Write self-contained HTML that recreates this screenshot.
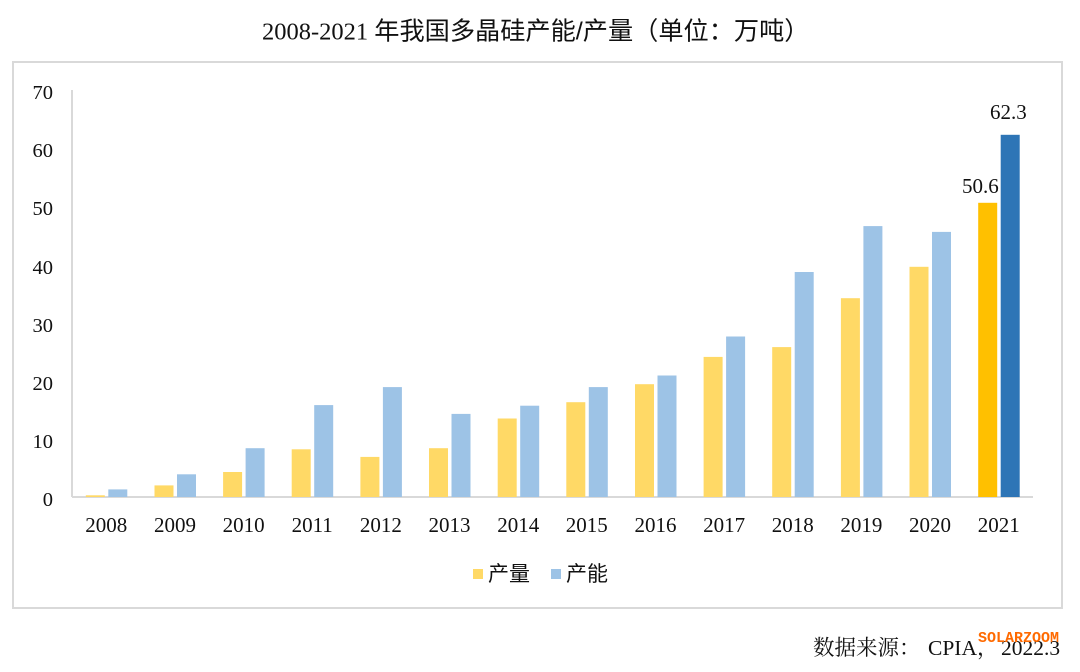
<!DOCTYPE html>
<html>
<head>
<meta charset="utf-8">
<style>
html,body{margin:0;padding:0;background:#fff;}
body{width:1080px;height:672px;overflow:hidden;}
svg{display:block;}
</style>
</head>
<body>
<svg width="1080" height="672" viewBox="0 0 1080 672" xmlns="http://www.w3.org/2000/svg">
  <rect x="0" y="0" width="1080" height="672" fill="#ffffff"/>
  <!-- Title -->
  <text x="262" y="39.5" font-family="Liberation Serif, serif" font-size="24.5" fill="#111">2008-2021 <tspan font-family="Liberation Sans, 'Noto Sans CJK SC', sans-serif" font-size="25.2">年我国多晶硅产能/产量（单位：万吨）</tspan></text>
  <!-- Frame -->
  <rect x="13" y="62" width="1049" height="546" fill="none" stroke="#d9d9d9" stroke-width="2"/>
  <!-- Axes -->
  <line x1="72" y1="90" x2="72" y2="497" stroke="#d9d9d9" stroke-width="2"/>
  <line x1="72" y1="497" x2="1033" y2="497" stroke="#d9d9d9" stroke-width="2"/>
  <!-- Y labels -->
  <g font-family="Liberation Serif, serif" font-size="20.5" fill="#111" text-anchor="end">
    <text x="53" y="99">70</text>
    <text x="53" y="157">60</text>
    <text x="53" y="215">50</text>
    <text x="53" y="274">40</text>
    <text x="53" y="332">30</text>
    <text x="53" y="390">20</text>
    <text x="53" y="448">10</text>
    <text x="53" y="506">0</text>
  </g>
  <!-- X labels -->
  <g font-family="Liberation Serif, serif" font-size="21" fill="#111" text-anchor="middle">
    <text x="106.3" y="532">2008</text>
    <text x="175.0" y="532">2009</text>
    <text x="243.6" y="532">2010</text>
    <text x="312.2" y="532">2011</text>
    <text x="380.9" y="532">2012</text>
    <text x="449.5" y="532">2013</text>
    <text x="518.2" y="532">2014</text>
    <text x="586.8" y="532">2015</text>
    <text x="655.5" y="532">2016</text>
    <text x="724.1" y="532">2017</text>
    <text x="792.7" y="532">2018</text>
    <text x="861.4" y="532">2019</text>
    <text x="930.0" y="532">2020</text>
    <text x="998.7" y="532">2021</text>
  </g>
  <!-- Bars -->
  <g>
    <rect x="85.8" y="495.3" width="19" height="1.7" fill="#ffd966"/>
    <rect x="108.3" y="489.4" width="19" height="7.6" fill="#9dc3e6"/>

    <rect x="154.5" y="485.4" width="19" height="11.6" fill="#ffd966"/>
    <rect x="177.0" y="474.3" width="19" height="22.7" fill="#9dc3e6"/>

    <rect x="223.1" y="472.0" width="19" height="25.0" fill="#ffd966"/>
    <rect x="245.6" y="448.2" width="19" height="48.8" fill="#9dc3e6"/>

    <rect x="291.7" y="449.3" width="19" height="47.7" fill="#ffd966"/>
    <rect x="314.2" y="405.1" width="19" height="91.9" fill="#9dc3e6"/>

    <rect x="360.4" y="456.9" width="19" height="40.1" fill="#ffd966"/>
    <rect x="382.9" y="387.1" width="19" height="109.9" fill="#9dc3e6"/>

    <rect x="429.0" y="448.2" width="19" height="48.8" fill="#ffd966"/>
    <rect x="451.5" y="413.9" width="19" height="83.1" fill="#9dc3e6"/>

    <rect x="497.7" y="418.5" width="19" height="78.5" fill="#ffd966"/>
    <rect x="520.2" y="405.7" width="19" height="91.3" fill="#9dc3e6"/>

    <rect x="566.3" y="402.2" width="19" height="94.8" fill="#ffd966"/>
    <rect x="588.8" y="387.1" width="19" height="109.9" fill="#9dc3e6"/>

    <rect x="635.0" y="384.2" width="19" height="112.8" fill="#ffd966"/>
    <rect x="657.5" y="375.5" width="19" height="121.5" fill="#9dc3e6"/>

    <rect x="703.6" y="356.9" width="19" height="140.1" fill="#ffd966"/>
    <rect x="726.1" y="336.5" width="19" height="160.5" fill="#9dc3e6"/>

    <rect x="772.2" y="347.1" width="19" height="149.9" fill="#ffd966"/>
    <rect x="794.7" y="272.0" width="19" height="225.0" fill="#9dc3e6"/>

    <rect x="840.9" y="298.2" width="19" height="198.8" fill="#ffd966"/>
    <rect x="863.4" y="226.1" width="19" height="270.9" fill="#9dc3e6"/>

    <rect x="909.5" y="266.8" width="19" height="230.2" fill="#ffd966"/>
    <rect x="932.0" y="231.9" width="19" height="265.1" fill="#9dc3e6"/>

    <rect x="978.2" y="202.8" width="19" height="294.2" fill="#ffc000"/>
    <rect x="1000.7" y="134.8" width="19" height="362.2" fill="#2e75b6"/>
  </g>
  <!-- Data labels -->
  <g font-family="Liberation Serif, serif" font-size="21" fill="#111">
    <text x="962" y="193">50.6</text>
    <text x="990" y="119">62.3</text>
  </g>
  <!-- Legend -->
  <rect x="473" y="569" width="10" height="10" fill="#ffd966"/>
  <text x="488" y="581" font-family="Liberation Sans, 'Noto Sans CJK SC', sans-serif" font-size="21" fill="#111">产量</text>
  <rect x="551" y="569" width="10" height="10" fill="#9dc3e6"/>
  <text x="566" y="581" font-family="Liberation Sans, 'Noto Sans CJK SC', sans-serif" font-size="21" fill="#111">产能</text>
  <!-- Source -->
  <text x="813" y="655" font-family="Liberation Serif, 'Noto Serif CJK SC', 'Noto Sans CJK SC', serif" font-size="21.5" fill="#111">数据来源：<tspan x="928">CPIA，</tspan><tspan x="1001">2022.3</tspan></text>
  <text x="978" y="642" font-family="Liberation Mono, monospace" font-size="15" font-weight="bold" fill="#ff6a00">SOLARZOOM</text>
</svg>
</body>
</html>
